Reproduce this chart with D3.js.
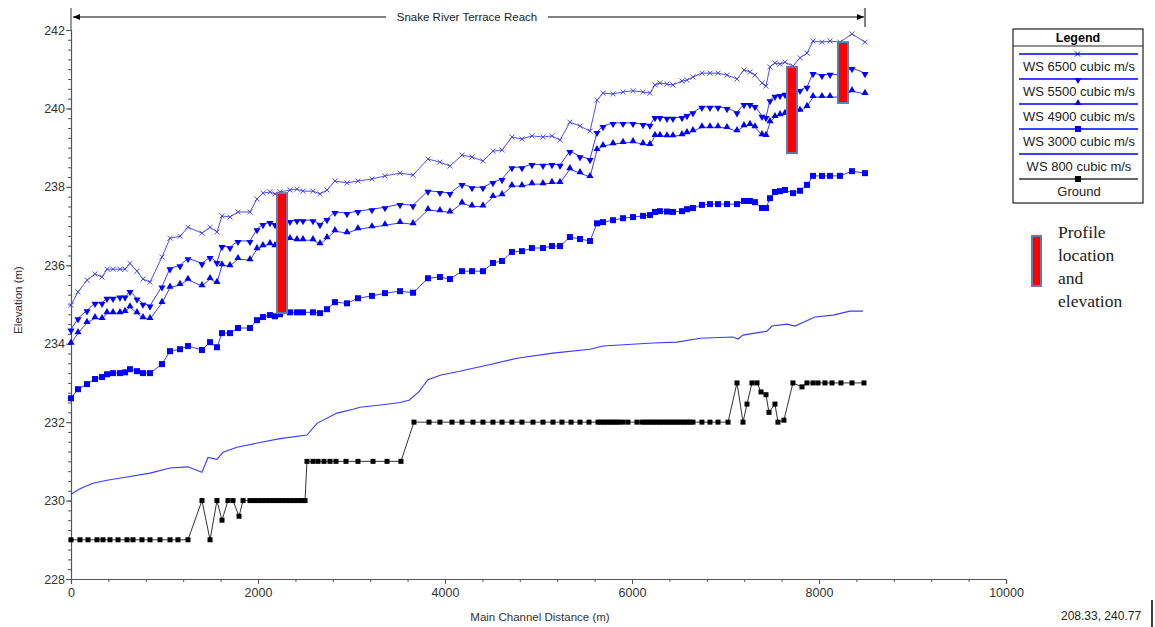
<!DOCTYPE html>
<head>
  <meta charset="utf-8">
  <script src="https://d3js.org/d3.v7.min.js"></script>
  <style>
    body { margin:0; background:#fff; }
    svg { font-family: "Liberation Sans", Arial, sans-serif; }
  </style>
</head>
<body>
<script>
// cross sections (m) shared by the WS profiles with markers
var stations = [0,75,171,257,332,385,449,524,578,631,706,770,845,973,1059,1166,1251,1401,1487,1561,
  1615,1700,1786,1914,1989,2053,2128,2182,2235,2342,2417,2481,2588,2663,2738,2823,2952,3069,3219,3358,
  3519,3658,3818,3946,4053,4182,4289,4406,4513,4610,4716,4823,4930,5048,5144,5230,5336,5444,5551,5626,
  5690,5797,5904,6011,6118,6192,6246,6299,6374,6438,6535,6588,6652,6748,6834,6920,7016,7123,7198,7262,
  7315,7390,7433,7476,7529,7583,7636,7722,7797,7872,7936,8032,8118,8224,8353,8492];

var ws6500 = [234.98,235.32,235.62,235.78,235.7,235.9,235.9,235.9,235.9,236.05,235.85,235.65,235.57,236.21,236.69,236.74,236.97,236.82,236.97,236.85,
  237.26,237.23,237.36,237.36,237.69,237.84,237.87,237.82,237.87,237.92,237.94,237.89,237.89,237.82,237.92,238.15,238.1,238.15,238.2,238.28,
  238.35,238.3,238.71,238.63,238.53,238.81,238.76,238.66,238.91,238.94,239.27,239.22,239.3,239.27,239.3,239.19,239.65,239.55,239.42,240.21,
  240.39,240.37,240.42,240.45,240.42,240.39,240.6,240.65,240.62,240.6,240.7,240.72,240.8,240.9,240.9,240.9,240.85,240.75,240.98,240.93,
  240.85,240.65,240.57,241.06,241.16,241.13,241.18,241.08,241.29,241.41,241.72,241.69,241.72,241.69,241.9,241.69];

var ws5500 = [234.36,234.65,234.85,235.04,235.04,235.17,235.17,235.2,235.2,235.34,235.15,235.02,234.97,235.46,235.92,236.0,236.18,236.05,236.21,236.08,
  236.49,236.46,236.62,236.62,236.92,237.05,237.1,237.05,237.08,237.13,237.15,237.15,237.15,237.05,237.18,237.36,237.33,237.38,237.43,237.48,
  237.56,237.53,237.9,237.87,237.84,238.07,237.99,237.99,238.12,238.2,238.5,238.5,238.58,238.56,238.58,238.56,238.91,238.78,238.71,239.4,
  239.55,239.63,239.63,239.63,239.6,239.58,239.78,239.78,239.76,239.76,239.78,239.83,239.9,240.04,240.04,240.04,240.01,239.9,240.11,240.11,
  240.06,239.81,239.78,240.21,240.32,240.34,240.37,240.42,240.47,240.55,240.9,240.85,240.88,240.85,241.03,240.9];

var ws4900 = [234.0,234.27,234.53,234.65,234.63,234.78,234.78,234.78,234.81,234.93,234.78,234.65,234.63,235.04,235.43,235.5,235.63,235.47,235.65,235.55,
  236.0,235.98,236.16,236.13,236.41,236.49,236.54,236.49,236.54,236.67,236.64,236.64,236.64,236.54,236.69,236.87,236.82,236.92,236.97,237.02,
  237.08,237.05,237.41,237.38,237.35,237.58,237.5,237.5,237.74,237.79,238.02,238.02,238.07,238.07,238.1,238.1,238.45,238.35,238.25,238.94,
  239.04,239.09,239.12,239.14,239.09,239.07,239.3,239.3,239.29,239.29,239.32,239.37,239.42,239.52,239.52,239.52,239.5,239.42,239.55,239.58,
  239.52,239.32,239.3,239.65,239.78,239.83,239.86,239.88,239.94,240.04,240.29,240.29,240.29,240.29,240.44,240.37];

var ws3000 = [232.61,232.84,232.97,233.1,233.15,233.22,233.25,233.25,233.27,233.35,233.3,233.25,233.25,233.48,233.81,233.86,233.94,233.84,234.04,233.91,
  234.27,234.27,234.4,234.4,234.6,234.68,234.73,234.7,234.75,234.8,234.8,234.8,234.8,234.78,234.88,235.06,235.03,235.16,235.22,235.29,
  235.34,235.3,235.67,235.7,235.65,235.85,235.85,235.85,236.06,236.11,236.34,236.36,236.44,236.44,236.49,236.49,236.72,236.67,236.62,237.07,
  237.1,237.15,237.2,237.23,237.26,237.28,237.36,237.38,237.37,237.36,237.38,237.43,237.46,237.54,237.56,237.56,237.56,237.56,237.64,237.64,
  237.61,237.46,237.46,237.71,237.87,237.89,237.92,237.84,237.9,238.05,238.28,238.28,238.28,238.28,238.4,238.35];

// WS 800 has no markers, its own points
var ws800 = [[0,230.16],[96,230.3],[235,230.44],[385,230.52],[599,230.6],[845,230.7],[1059,230.83],[1251,230.86],[1401,230.72],
  [1465,231.1],[1561,231.05],[1626,231.23],[1775,231.36],[2021,231.48],[2235,231.58],[2524,231.67],[2631,231.97],[2845,232.23],
  [3016,232.33],[3091,232.38],[3358,232.45],[3519,232.5],[3615,232.56],[3722,232.78],[3818,233.08],[3957,233.2],[4161,233.3],
  [4214,233.33],[4449,233.45],[4770,233.63],[5155,233.76],[5551,233.86],[5690,233.94],[6224,234.02],[6481,234.04],[6727,234.14],
  [7080,234.17],[7134,234.12],[7187,234.22],[7444,234.32],[7497,234.45],[7658,234.5],[7743,234.45],[7957,234.68],[8150,234.73],
  [8331,234.83],[8470,234.83]];

var ground = [[0,229],[96,229],[182,229],[278,229],[342,229],[417,229],[503,229],[599,229],[663,229],[759,229],[845,229],
  [952,229],[1059,229],[1144,229],[1251,229],[1401,230],[1487,229],[1561,230],[1615,229.5],[1679,230],[1733,230],[1797,229.6],
  [1840,230],[1914,230],[1957,230],[2000,230],[2043,230],[2085,230],[2128,230],[2171,230],[2214,230],[2257,230],[2300,230],
  [2342,230],[2385,230],[2428,230],[2471,230],[2503,230],[2524,231],[2588,231],[2642,231],[2706,231],[2770,231],[2834,231],
  [2941,231],[3069,231],[3230,231],[3380,231],[3529,231],[3668,232],[3829,232],[3946,232],[4075,232],[4182,232],[4299,232],
  [4406,232],[4513,232],[4610,232],[4716,232],[4823,232],[4941,232],[5048,232],[5155,232],[5251,232],[5348,232],[5444,232],
  [5540,232],[5636,232],[5668,232],[5700,232],[5732,232],[5765,232],[5797,232],[5829,232],[5861,232],[5904,232],[5957,232],
  [6053,232],[6107,232],[6139,232],[6171,232],[6203,232],[6235,232],[6267,232],[6299,232],[6331,232],[6363,232],[6395,232],
  [6427,232],[6459,232],[6491,232],[6523,232],[6555,232],[6588,232],[6620,232],[6652,232],[6748,232],[6834,232],[6920,232],
  [7027,232],[7123,233],[7187,232],[7230,232.46],[7283,233],[7337,233],[7380,232.77],[7433,232.7],[7465,232.25],[7529,232.46],
  [7561,232],[7625,232.05],[7721,233],[7818,232.9],[7871,233],[7936,233],[7989,233],[8064,233],[8139,233],[8235,233],[8353,233],[8481,233]];

// red profile bars
var profileX = [2257, 7711, 8257];
var profileTop = [237.84, 241.06, 241.69];
var profileBottom = [234.78, 238.86, 240.14];

var xTicks = [0, 2000, 4000, 6000, 8000, 10000];
var yTicks = [228, 230, 232, 234, 236, 238, 240, 242];
var legendNames = ["WS  6500 cubic m/s", "WS  5500 cubic m/s", "WS  4900 cubic m/s", "WS  3000 cubic m/s", "WS  800 cubic m/s", "Ground"];

var width = 1155, height = 627;
var blue = "#0000ff", lineBlue = "#3a3aff";

var svg = d3.select("body").append("svg")
    .attr("width", width)
    .attr("height", height);

var x = d3.scaleLinear().domain([0, 10000]).range([71, 1006]);
var y = d3.scaleLinear().domain([228, 242]).range([579, 30]);

// axes
var yAxis = svg.append("g").attr("transform", "translate(71,0)")
    .call(d3.axisLeft(y).tickValues(yTicks).tickSize(5).tickFormat(d3.format("d")));
svg.append("g").attr("transform", "translate(71,0)")
    .call(d3.axisLeft(y).tickValues(d3.range(228, 242.01, 0.25)).tickSize(3).tickFormat(""))
    .select(".domain").remove();
svg.append("line").attr("x1", 71).attr("x2", 71).attr("y1", 8).attr("y2", 30)
    .attr("stroke", "#555").attr("stroke-width", 1.2);

var xAxis = svg.append("g").attr("transform", "translate(0,579)")
    .call(d3.axisBottom(x).tickValues(xTicks).tickSize(5).tickFormat(d3.format("d")));
svg.append("g").attr("transform", "translate(0,579)")
    .call(d3.axisBottom(x).tickValues(d3.range(0, 10001, 400)).tickSize(3).tickFormat(""))
    .select(".domain").remove();

svg.selectAll(".domain").attr("stroke", "#555").attr("stroke-width", 1.2);
svg.selectAll(".tick line").attr("stroke", "#555");
yAxis.selectAll("text").style("font-family", "Liberation Sans Narrow, Liberation Sans, Arial")
    .attr("font-size", 12.5).attr("fill", "#333").attr("x", -6);
xAxis.selectAll("text").style("font-family", "Liberation Sans Narrow, Liberation Sans, Arial")
    .attr("font-size", 12.5).attr("fill", "#333").attr("y", 9);

svg.append("text").attr("transform", "translate(22,300) rotate(-90)")
    .attr("text-anchor", "middle").attr("font-size", 11.5).attr("fill", "#333")
    .text("Elevation (m)");
svg.append("text").attr("x", 540).attr("y", 621)
    .attr("text-anchor", "middle").attr("font-size", 11.5).attr("fill", "#333")
    .text("Main Channel Distance (m)");

// reach annotation
var reachEnd = x(d3.max(stations));
svg.append("line").attr("x1", 73).attr("x2", reachEnd - 1).attr("y1", 17).attr("y2", 17)
    .attr("stroke", "#000");
svg.append("line").attr("x1", reachEnd).attr("x2", reachEnd).attr("y1", 8).attr("y2", 27)
    .attr("stroke", "#000");
svg.append("path").attr("d", "M73,17 l7,-3 v6 z").attr("fill", "#000");
svg.append("path").attr("d", "M" + (reachEnd - 1) + ",17 l-7,-3 v6 z").attr("fill", "#000");
svg.append("rect").attr("x", 386).attr("y", 10).attr("width", 162).attr("height", 14).attr("fill", "#fff");
svg.append("text").attr("x", 467).attr("y", 21).attr("text-anchor", "middle")
    .attr("font-size", 11.5).attr("fill", "#222").text("Snake River Terrace Reach");

var line = d3.line().x(function(d) { return x(d[0]); }).y(function(d) { return y(d[1]); });
function zip(vals) { return stations.map(function(s, i) { return [s, vals[i]]; }); }

// ground
svg.append("path").attr("d", line(ground)).attr("fill", "none").attr("stroke", "#333").attr("stroke-width", 1);
svg.append("g").selectAll("rect").data(ground).enter().append("rect")
    .attr("x", function(d) { return x(d[0]) - 2.5; }).attr("y", function(d) { return y(d[1]) - 2.5; })
    .attr("width", 5).attr("height", 5).attr("fill", "#000");

// WS 800
svg.append("path").attr("d", line(ws800)).attr("fill", "none").attr("stroke", lineBlue).attr("stroke-width", 1.1);

// WS 3000
svg.append("path").attr("d", line(zip(ws3000))).attr("fill", "none").attr("stroke", lineBlue).attr("stroke-width", 1);
svg.append("g").selectAll("rect").data(zip(ws3000)).enter().append("rect")
    .attr("x", function(d) { return x(d[0]) - 3; }).attr("y", function(d) { return y(d[1]) - 3; })
    .attr("width", 6).attr("height", 6).attr("fill", blue);

// WS 4900 up triangles
svg.append("path").attr("d", line(zip(ws4900))).attr("fill", "none").attr("stroke", lineBlue).attr("stroke-width", 1);
svg.append("g").selectAll("path").data(zip(ws4900)).enter().append("path")
    .attr("d", d3.symbol().type(d3.symbolTriangle).size(22))
    .attr("transform", function(d) { return "translate(" + x(d[0]) + "," + (y(d[1]) - 1) + ")"; })
    .attr("fill", blue);

// WS 5500 down triangles
svg.append("path").attr("d", line(zip(ws5500))).attr("fill", "none").attr("stroke", lineBlue).attr("stroke-width", 1);
svg.append("g").selectAll("path").data(zip(ws5500)).enter().append("path")
    .attr("d", d3.symbol().type(d3.symbolTriangle).size(22))
    .attr("transform", function(d) { return "translate(" + x(d[0]) + "," + (y(d[1]) + 1) + ") rotate(180)"; })
    .attr("fill", blue);

// WS 6500 x markers
svg.append("path").attr("d", line(zip(ws6500))).attr("fill", "none").attr("stroke", lineBlue).attr("stroke-width", 0.9);
svg.append("g").selectAll("path").data(zip(ws6500)).enter().append("path")
    .attr("d", "M-2.5,-2.5L2.5,2.5M-2.5,2.5L2.5,-2.5")
    .attr("transform", function(d) { return "translate(" + x(d[0]) + "," + y(d[1]) + ")"; })
    .attr("stroke", lineBlue).attr("stroke-width", 0.9).attr("fill", "none");

// profile bars
svg.append("g").selectAll("rect").data(profileX).enter().append("rect")
    .attr("x", function(d) { return x(d) - 5; })
    .attr("y", function(d, i) { return y(profileTop[i]); })
    .attr("width", 10)
    .attr("height", function(d, i) { return y(profileBottom[i]) - y(profileTop[i]); })
    .attr("fill", "#ff0000").attr("stroke", "#5a7fa8").attr("stroke-width", 2);

// legend
var lg = svg.append("g").attr("transform", "translate(1013,29)");
lg.append("rect").attr("width", 130).attr("height", 174).attr("fill", "#fff").attr("stroke", "#222").attr("stroke-width", 1.2);
lg.append("line").attr("x1", 0).attr("x2", 130).attr("y1", 17).attr("y2", 17).attr("stroke", "#222");
lg.append("text").attr("x", 65).attr("y", 13).attr("text-anchor", "middle")
    .attr("font-weight", "bold").attr("font-size", 12.5).text("Legend");
var markers = ["x", "down", "up", "square", "none", "ground"];
legendNames.forEach(function(name, i) {
  var ly = 25 + i * 25;
  lg.append("line").attr("x1", 6).attr("x2", 125).attr("y1", ly).attr("y2", ly)
      .attr("stroke", i == 5 ? "#333" : blue).attr("stroke-width", 1.5);
  var m = markers[i];
  if (m == "x") lg.append("path").attr("d", "M62,22.5L67,27.5M62,27.5L67,22.5").attr("stroke", blue);
  if (m == "down") lg.append("path").attr("d", d3.symbol().type(d3.symbolTriangle).size(20)).attr("transform", "translate(65," + (ly + 1) + ") rotate(180)").attr("fill", blue);
  if (m == "up") lg.append("path").attr("d", d3.symbol().type(d3.symbolTriangle).size(20)).attr("transform", "translate(65," + (ly - 1) + ")").attr("fill", blue);
  if (m == "square") lg.append("rect").attr("x", 62).attr("y", ly - 3).attr("width", 6).attr("height", 6).attr("fill", blue);
  if (m == "ground") lg.append("rect").attr("x", 62).attr("y", ly - 3).attr("width", 6).attr("height", 6).attr("fill", "#000");
  lg.append("text").attr("x", 66).attr("y", ly + 17).attr("text-anchor", "middle")
      .attr("font-size", 13).attr("fill", "#222").text(name);
});

// profile legend
svg.append("rect").attr("x", 1032).attr("y", 236).attr("width", 9).attr("height", 50)
    .attr("fill", "#ff0000").attr("stroke", "#5a7fa8").attr("stroke-width", 2);
["Profile", "location", "and", "elevation"].forEach(function(t, i) {
  svg.append("text").attr("x", 1058).attr("y", 238 + i * 23)
      .style("font-family", "Liberation Serif, Times New Roman, serif")
      .attr("font-size", 17.5).attr("fill", "#222").text(t);
});

// cursor readout
svg.append("circle").attr("cx", 1058).attr("cy", 616).attr("r", 1).attr("fill", "#f0e060");
svg.append("text").attr("x", 1061).attr("y", 620).attr("font-size", 12).attr("fill", "#222").text("208.33, 240.77");
svg.append("line").attr("x1", 1152).attr("x2", 1152).attr("y1", 600).attr("y2", 627).attr("stroke", "#000").attr("stroke-width", 1.5);
</script>
</body>
